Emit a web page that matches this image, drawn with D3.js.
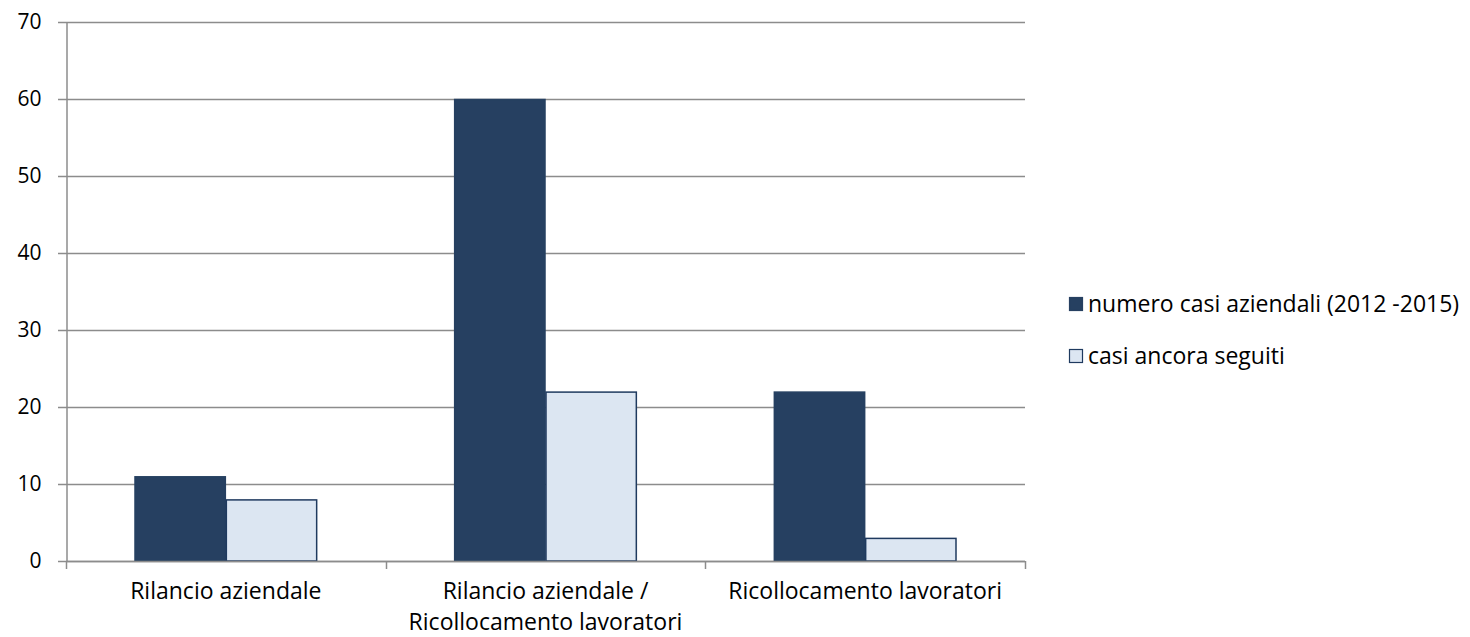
<!DOCTYPE html>
<html>
<head>
<meta charset="utf-8">
<script src="https://cdn.jsdelivr.net/npm/d3@7"></script>
<style>
  html, body { margin: 0; padding: 0; background: #fff; }
  svg { display: block; }
  text { font-family: "Open Sans", sans-serif; fill: #000; }
</style>
</head>
<body>
<svg id="chart" width="1470" height="637"></svg>
<script>
// Categories (multi-line labels split on "\n")
const categories = [
  "Rilancio aziendale",
  "Rilancio aziendale /\nRicollocamento lavoratori",
  "Ricollocamento lavoratori"
];
const seriesNames = ["numero casi aziendali (2012 -2015)", "casi ancora seguiti"];
const casiAziendali = [11, 60, 22];
const casiSeguiti = [8, 22, 3];
const yTicks = [0, 10, 20, 30, 40, 50, 60, 70];

const seriesValues = [casiAziendali, casiSeguiti];
const fills = ["#264061", "#DCE6F2"];
const strokes = ["#264061", "#1F3A5F"];
const fontSize = "23px";

const svg = d3.select("#chart");
const plot = { left: 66, right: 1025, top: 22, bottom: 561 };

const x = d3.scaleBand().domain(categories).range([plot.left, plot.right]).padding(0);
const xs = d3.scaleBand().domain(seriesNames).range([0, x.bandwidth()])
  .paddingInner(0).paddingOuter(0.75);
const y = d3.scaleLinear().domain([0, 70]).range([plot.bottom, plot.top]);

// Horizontal gridlines
svg.append("g")
  .selectAll("line")
  .data(yTicks)
  .join("line")
  .attr("x1", plot.left - 8).attr("x2", plot.right)
  .attr("y1", d => Math.round(y(d)) + 0.5).attr("y2", d => Math.round(y(d)) + 0.5)
  .attr("stroke", "#8c8c8c").attr("stroke-width", 1.5);

// Y axis
const yAxis = d3.axisLeft(y).tickValues(yTicks).tickSize(0).tickPadding(25);
const gy = svg.append("g").attr("transform", `translate(${plot.left + 0.5},0)`).call(yAxis);
gy.select(".domain").attr("stroke", "#8c8c8c").attr("stroke-width", 1.5);
gy.selectAll("text").style("font-size", "21px").style("font-family", "'Open Sans', sans-serif").attr("fill", "#000");

// Bars
categories.forEach((c, i) => {
  seriesNames.forEach((s, j) => {
    const v = seriesValues[j][i];
    svg.append("rect")
      .attr("x", x(c) + xs(s) + 0.5)
      .attr("y", y(v) + 0.5)
      .attr("width", xs.bandwidth() - 1)
      .attr("height", y(0) - y(v) - 0.5)
      .attr("fill", fills[j])
      .attr("stroke", strokes[j])
      .attr("stroke-width", 1.5);
  });
});

// X axis baseline and category boundary ticks
const gx = svg.append("g");
gx.append("line")
  .attr("x1", plot.left).attr("x2", plot.right)
  .attr("y1", plot.bottom + 0.5).attr("y2", plot.bottom + 0.5)
  .attr("stroke", "#8c8c8c").attr("stroke-width", 1.5);
const bounds = categories.map(c => x(c)).concat([x(categories[categories.length - 1]) + x.bandwidth()]);
gx.selectAll("line.tick")
  .data(bounds)
  .join("line")
  .attr("class", "tick")
  .attr("x1", d => Math.round(d) + 0.5).attr("x2", d => Math.round(d) + 0.5)
  .attr("y1", plot.bottom).attr("y2", plot.bottom + 8)
  .attr("stroke", "#8c8c8c").attr("stroke-width", 1.5);

// Category labels
categories.forEach(c => {
  const lines = c.split("\n");
  const t = svg.append("text")
    .attr("x", x(c) + x.bandwidth() / 2)
    .attr("y", 598.5)
    .attr("text-anchor", "middle")
    .style("font-size", fontSize);
  lines.forEach((l, k) => {
    t.append("tspan").attr("x", x(c) + x.bandwidth() / 2).attr("dy", k === 0 ? 0 : 31.5).text(l);
  });
});

// Legend
const legend = svg.append("g");
seriesNames.forEach((s, j) => {
  const ly = 297 + j * 52;
  legend.append("rect")
    .attr("x", 1069.5).attr("y", ly + 0.5)
    .attr("width", 13).attr("height", 13)
    .attr("fill", fills[j]).attr("stroke", strokes[j]).attr("stroke-width", 1.2);
  legend.append("text")
    .attr("x", 1088).attr("y", ly + 15)
    .style("font-size", fontSize)
    .text(s);
});
</script>
</body>
</html>
